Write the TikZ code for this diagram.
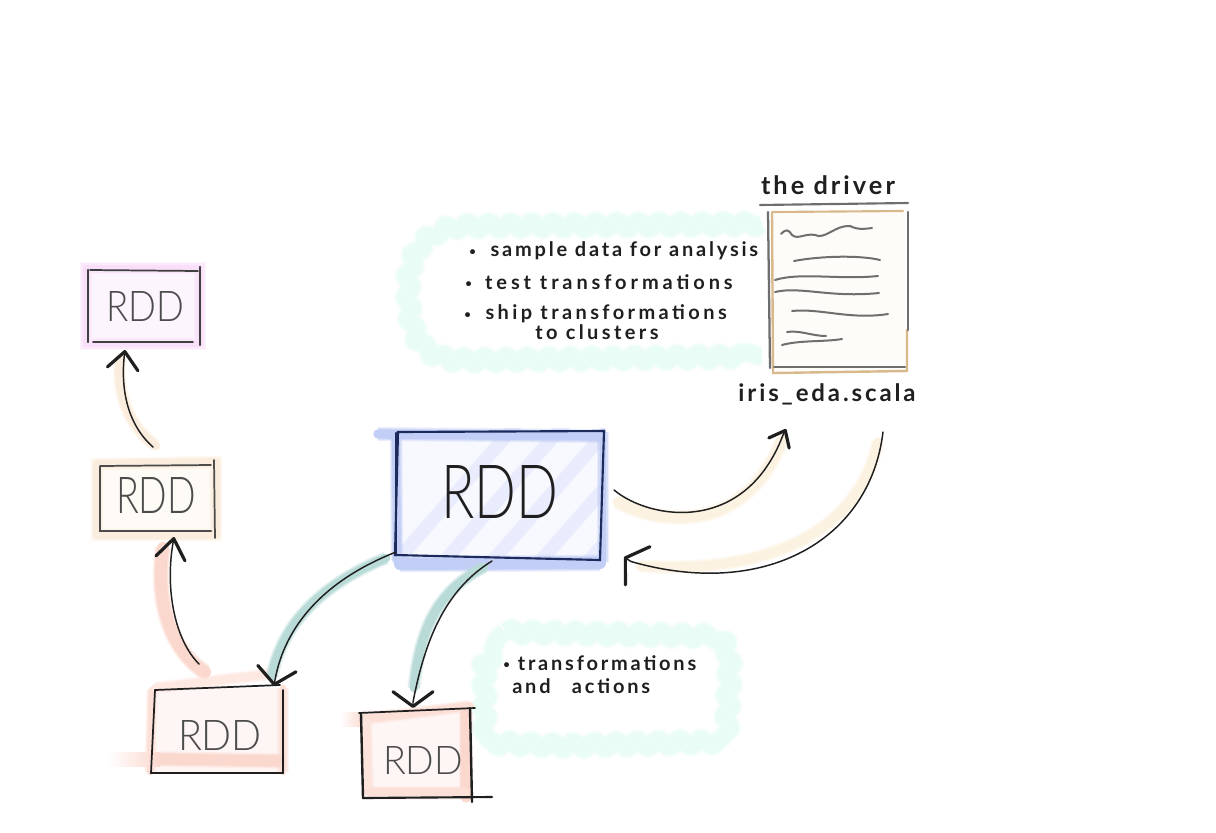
\documentclass[tikz,border=0pt]{standalone}
\usepackage{fontspec}
\usetikzlibrary{calc,arrows.meta,decorations.pathmorphing}
\setmainfont{Lato}
\newfontfamily\thinfont{Lato Light}
\newfontfamily\handfont[LetterSpace=14]{Lato Bold}
\newfontfamily\handwide[LetterSpace=19.5]{Lato Bold}
\newfontfamily\handmid[LetterSpace=17]{Lato Bold}
\newfontfamily\capfont[LetterSpace=12]{Lato Bold}
\definecolor{ink}{HTML}{1F1F1F}
\definecolor{navy}{HTML}{1C2A5C}
\definecolor{graystroke}{HTML}{6E6E6E}
\definecolor{tan}{HTML}{D9B88C}
\definecolor{bluewash}{HTML}{C3CEF6}
\definecolor{bluehatch}{HTML}{E8ECFC}
\definecolor{mint}{HTML}{EAFCF6}
\definecolor{teal}{HTML}{B9DBD8}
\definecolor{salmon}{HTML}{FBD8CE}
\definecolor{peach}{HTML}{FBEDDD}
\definecolor{sand}{HTML}{FCF2E2}
\definecolor{orchid}{HTML}{FADFFA}
\pgfdeclarelayer{bg}
\pgfsetlayers{bg,main}
\tikzset{
  x=0.75pt,y=-0.75pt,
  soft/.style 2 args={line cap=round,line join=round,
    preaction={draw=#1,line width=#2pt+3.5pt,opacity=.3},
    preaction={draw=#1,line width=#2pt+1.8pt,opacity=.5},
    draw=#1,line width=#2pt},
  cloud/.style={draw=mint,line join=round,decorate,decoration={snake,amplitude=3pt,segment length=16pt}},
  stroke/.style={line width=1.3pt,line cap=round,draw=ink},
  scribble/.style={line width=1.5pt,line cap=round,draw=graystroke},
  link/.style 2 args={line width=1.1pt,draw=ink,line cap=round,-{Straight Barb[length=#1pt,width=#2pt,line width=2.4pt,round]}},
  rddlabel/.style={text=#1,inner sep=0pt},
  hand/.style={inner sep=0pt,anchor=west,text=ink,font=\handfont\fontsize{15pt}{16pt}\selectfont},
}
\newcommand{\rddtext}[2]{\resizebox{\dimexpr #1pt*3/4\relax}{\dimexpr #2pt*3/4\relax}{\thinfont RDD}}
\newcommand{\dotb}{\raisebox{1.2pt}{\fontsize{8.5pt}{9pt}\selectfont •}}
\begin{document}
\begin{tikzpicture}
\useasboundingbox (0,0) rectangle (1216,832);

% ---------- nodes
\node[rddlabel=ink]    (main) at (500,492) {\rddtext{117}{53}};
\node[rddlabel=black!70] (top) at (145,306) {\rddtext{78}{30}};
\node[rddlabel=black!70] (mid) at (156,495) {\rddtext{80}{36}};
\node[rddlabel=black!70] (bl)  at (220,735) {\rddtext{84}{30}};
\node[rddlabel=black!70] (bm)  at (423,760) {\rddtext{80}{28}};

\coordinate (mainSW) at (396,552);
\coordinate (mainS) at (492,561);
\coordinate (mainE) at (614,490);
\coordinate (mainRet) at (624,557);
\coordinate (blTop) at (274,686);
\coordinate (blOut) at (199,664);
\coordinate (bmTop) at (413,708);
\coordinate (midIn) at (174,537);
\coordinate (midOut) at (153,447);
\coordinate (topIn) at (125,350);

\node[inner sep=0pt,text=ink,font=\capfont\fontsize{19pt}{20pt}\selectfont] (driver) at (828,185) {the driver};
\node[inner sep=0pt,text=ink,font=\capfont\fontsize{18pt}{20pt}\selectfont] (iris) at (827,394) {iris\_eda.scala};
\coordinate (irisOut) at (883,432);
\coordinate (irisIn) at (786,429);

\node[hand] (t1) at (469,251) {\dotb\hspace{11pt}sample data for analysis};
\node[hand,font=\handwide\fontsize{15pt}{16pt}\selectfont] (t2) at (465,282) {\dotb\hspace{10pt}test transformations};
\node[hand,font=\handmid\fontsize{15pt}{16pt}\selectfont] (t3) at (464,314) {\dotb\hspace{11pt}ship transformations};
\node[hand,font=\handmid\fontsize{15pt}{16pt}\selectfont] (t4) at (535,332) {to clusters};
\node[hand] (t5) at (503,663) {\dotb\hspace{6pt}transformations};
\node[hand] (t6) at (512,686) {and\hspace{16pt}actions};

% ---------- washes
\begin{pgfonlayer}{bg}
% mint clouds
\foreach \w/\op in {16/.3,14/.5,12/1}{
  \draw[cloud,line width=\w pt,draw opacity=\op] (762,224) -- (470,226) .. controls (425,228) and (410,260) .. (414,300) .. controls (417,345) and (432,362) .. (480,360) -- (762,356);
  \draw[cloud,line width=\w pt,draw opacity=\op] (505,632) -- (710,636) .. controls (724,644) and (724,660) .. (722,690) -- (720,734) -- (560,738) -- (484,735) -- (484,660) -- cycle;
}
% main blue
\fill[bluehatch!30] (398,432) rectangle (603,558);
\begin{scope}
\clip (392,428) rectangle (606,562);
\foreach \d in {0,48,96,144,192,240}{
  \draw[bluehatch,line width=10pt] (380+\d,580) -- (520+\d,420);
}
\end{scope}
\draw[soft={bluewash}{7}] (378,434) -- (600,436);
\draw[soft={bluewash}{6}] (396,436) -- (397,560);
\draw[soft={bluewash}{5}] (603,432) -- (603,562);
\draw[soft={bluewash}{9}] (400,564) -- (600,563);
% top magenta
\fill[orchid!30] (86,268) rectangle (200,343);
\draw[soft={orchid}{5}] (86,268) -- (200,268) -- (200,344) -- (86,344) -- cycle;
% mid peach
\fill[peach!30] (98,462) rectangle (216,534);
\draw[soft={peach}{6}] (97,464) -- (216,462) -- (216,535) -- (97,535) -- cycle;
% bottom-left salmon
\fill[salmon!22] (152,688) rectangle (284,774);
\draw[soft={salmon!80}{5}] (152,690) -- (150,772);
\draw[soft={salmon!80}{5}] (283,688) -- (283,772);
\draw[soft={salmon!60}{6}] (155,688) -- (270,674);
\shade[left color=white,right color=salmon] (108,752) rectangle (160,766);
\draw[soft={salmon}{8}] (160,759) -- (280,761);
% bottom-middle salmon
\fill[salmon!22] (362,710) rectangle (472,800);
\shade[left color=white,right color=salmon] (340,712) rectangle (365,726);
\draw[soft={salmon!80}{6}] (365,719) -- (470,706);
\draw[soft={salmon!70}{6}] (366,720) -- (368,790);
\draw[soft={salmon}{7}] (466,712) -- (466,798);
\draw[soft={salmon!80}{6}] (368,792) -- (466,792);
% connector washes
\draw[soft={teal}{6.5}] (386,558) .. controls (320,585) and (282,625) .. (272,676);
\draw[soft={teal}{6.5}] (484,567) .. controls (440,590) and (420,625) .. (414,688);
\draw[soft={sand}{8}] (618,502) .. controls (660,525) and (745,535) .. (782,440);
\draw[soft={sand}{7}] (878,442) .. controls (860,525) and (780,575) .. (640,566);
\draw[soft={peach}{6.5}] (156,446) .. controls (128,425) and (117,395) .. (120,358);
\draw[soft={salmon}{9}] (205,672) .. controls (170,650) and (155,600) .. (163,548);
\end{pgfonlayer}

% ---------- main box
\draw[stroke,draw=navy,line width=1.6pt] (398,432) -- (604,431) -- (600,560) -- (395,555) -- cycle;
\draw[stroke,draw=navy,line width=2pt] (396,433) -- (396,555);
% top box
\draw[stroke,draw=black!75] (90,270) -- (198,271);
\draw[stroke,draw=black!75,line width=1.8pt] (200,267) -- (200,345);
\draw[stroke,draw=black!75] (93,342) -- (193,342);
\draw[stroke,draw=black!75,line width=1.8pt] (88,270) -- (88,342);
% mid box
\draw[stroke,draw=black!70] (100,466) -- (211,465);
\draw[stroke,draw=black!70] (214,460) -- (215,538);
\draw[stroke,draw=black!70,line width=1.6pt] (100,531) -- (211,531);
\draw[stroke,draw=black!70,line width=1.6pt] (100,467) -- (100,531);
% bottom-left box
\draw[stroke] (155,690) -- (280,685);
\draw[stroke] (283,690) -- (283,773);
\draw[stroke,line width=1.6pt] (151,773) -- (283,773);
\draw[stroke] (155,690) -- (151,773);
% bottom-mid box
\draw[stroke] (359,713) -- (475,708);
\draw[stroke,line width=1.8pt] (361,714) -- (363,798);
\draw[stroke,line width=1.8pt] (470,708) -- (472,802);
\draw[stroke,line width=1.6pt] (363,798) -- (492,797);

% ---------- document
\begin{pgfonlayer}{bg}
\fill[sand!25] (772,212) rectangle (906,371);
\end{pgfonlayer}
\draw[stroke,draw=graystroke,line width=1.6pt] (760,205) -- (908,203);
\draw[stroke,draw=tan,line width=1.6pt] (772,212) -- (903,211);
\draw[stroke,draw=tan,line width=1.8pt] (772,213) -- (773,373) -- (907,371) -- (907,330);
\draw[stroke,draw=graystroke,line width=1.7pt] (768,212) -- (770,368);
\draw[stroke,draw=graystroke,line width=1.7pt] (908,212) -- (908,330);
\draw[stroke,draw=graystroke,line width=1.5pt] (774,367) -- (905,367);
\draw[scribble] (781,234) .. controls (786,229) and (788,229) .. (792,235) .. controls (798,240) and (805,233) .. (815,235) .. controls (825,240) and (835,225) .. (850,226) .. controls (858,230) and (865,229) .. (872,228);
\draw[scribble] (794,261) .. controls (820,256) and (860,255) .. (880,260);
\draw[scribble] (775,280) .. controls (800,272) and (840,280) .. (878,276);
\draw[scribble] (775,292) .. controls (800,286) and (830,298) .. (879,293);
\draw[scribble] (792,311) .. controls (820,308) and (850,320) .. (888,314);
\draw[scribble] (787,332) .. controls (800,330) and (812,336) .. (826,336);
\draw[scribble] (782,345) .. controls (800,340) and (825,342) .. (842,339);

% ---------- connectors
\draw[link={12}{29}] (mainSW) .. controls (325,580) and (285,625) .. ($(blTop)+(1,-6)$) -- (blTop);
\draw[link={11}{30}] (mainS) .. controls (445,590) and (425,640) .. ($(bmTop)+(0,-6)$) -- (bmTop);
\draw[link={10.5}{17}] (mainE) .. controls (650,520) and (745,535) .. ($(irisIn)+(-3,6)$) -- (irisIn);
\draw[link={11}{34}] (irisOut) .. controls (870,540) and (765,600) .. ($(mainRet)+(7,4.5)$) -- (mainRet);
\draw[link={13}{23}] (midOut) .. controls (128,425) and (120,390) .. (topIn);
\draw[link={15}{22}] (blOut) .. controls (175,640) and (165,590) .. ($(midIn)+(-1,6)$) -- (midIn);
\end{tikzpicture}
\end{document}
